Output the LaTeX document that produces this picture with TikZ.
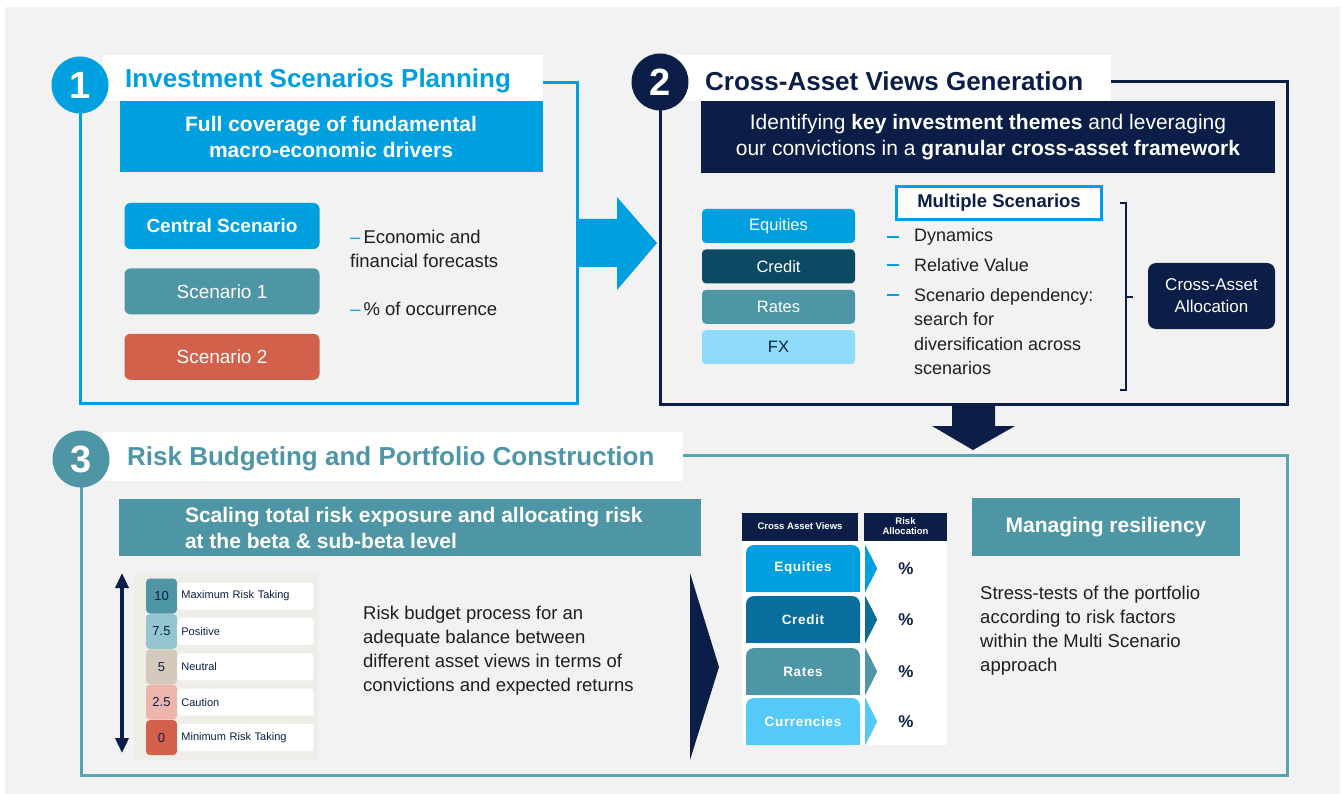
\documentclass[tikz,border=0pt]{standalone}
\usepackage{fontspec}
\setmainfont{Liberation Sans}
\usetikzlibrary{positioning,arrows.meta}

\definecolor{capblue}{HTML}{009FE0}
\definecolor{capnavy}{HTML}{0B1E47}
\definecolor{capteal}{HTML}{4E96A5}
\definecolor{capline}{HTML}{5AA3B3}
\definecolor{capred}{HTML}{D2604A}
\definecolor{capdeep}{HTML}{0C4A64}
\definecolor{capfx}{HTML}{8EDCFA}
\definecolor{capmid}{HTML}{0A6E9C}
\definecolor{capsky}{HTML}{55CAF8}
\definecolor{pagebg}{HTML}{F2F2F2}
\definecolor{panelbg}{HTML}{EFEDE8}
\definecolor{lvlpos}{HTML}{93C6D0}
\definecolor{lvlneu}{HTML}{D5C9BB}
\definecolor{lvlcau}{HTML}{EDB5AB}
\definecolor{bodytext}{HTML}{1E1E1E}

\tikzset{
  >=Latex,
  secframe/.style={line width=3pt},
  disc/.style={circle, minimum size=57pt, inner sep=0pt, text=white,
    font={\fontsize{38}{38}\selectfont\bfseries}},
  headbar/.style={fill=white, minimum height=46pt, inner sep=0pt, anchor=west},
  heading/.style={anchor=west, inner sep=0pt,
    font={\fontsize{26}{30}\selectfont\bfseries}},
  banner/.style={text=white, align=center, inner sep=0pt,
    font={\fontsize{21}{26}\selectfont\bfseries}},
  scenbox/.style={rounded corners=6pt, minimum width=195pt, minimum height=46pt,
    inner sep=0pt, text=white, font={\fontsize{19}{19}\selectfont}},
  note/.style={anchor=west, align=left, inner sep=0pt, text=bodytext,
    font={\fontsize{18.5}{24}\selectfont}},
  asset/.style={rounded corners=4pt, minimum width=153pt, minimum height=34pt,
    inner sep=0pt, text=white, font={\fontsize{16.5}{16.5}\selectfont}},
  msbox/.style={draw=capblue, line width=3.5pt, fill=white, minimum width=205pt,
    minimum height=33pt, inner sep=0pt, text=capnavy,
    font={\fontsize{18.5}{18.5}\selectfont\bfseries}},
  item/.style={anchor=west, align=left, inner sep=0pt, text=bodytext,
    font={\fontsize{18}{24.5}\selectfont}},
  itemdash/.style={capblue, line width=2.2pt},
  alloc/.style={fill=capnavy, rounded corners=8pt, minimum width=127pt,
    minimum height=66pt, inner sep=0pt, align=center, text=white,
    font={\fontsize{17}{22}\selectfont}},
  lvl/.style={rounded corners=4pt, minimum width=31pt, minimum height=35pt,
    inner sep=0pt, text=capnavy, font={\fontsize{13}{13}\selectfont}},
  lvltag/.style={fill=white, rounded corners=3pt, text width=128pt, inner xsep=4pt,
    inner ysep=0pt, minimum height=27pt, align=left, text=capnavy,
    font={\fontsize{11}{11}\selectfont}},
  scalearrow/.style={<->, >={Triangle[width=13pt,length=15pt]}, line width=3.5pt,
    capnavy},
  thead/.style={fill=capnavy, minimum height=28pt, inner sep=0pt, align=center,
    text=white, font={\fontsize{9.5}{10}\selectfont\bfseries}},
  tabrow/.style={rounded corners=8pt, minimum width=114pt, minimum height=47pt,
    inner sep=0pt, text=white,
    font={\fontsize{13.5}{13.5}\selectfont\bfseries\addfontfeature{LetterSpace=5}}},
  pct/.style={text=capnavy, inner sep=0pt, font={\fontsize{17}{17}\selectfont\bfseries}},
}

\begin{document}
\begin{tikzpicture}[x=1pt, y=-1pt]
  \useasboundingbox (0,0) rectangle (1343,794);
  \fill[white] (0,0) rectangle (1343,794);
  \fill[pagebg] (5,7) rectangle (1340,794);

  % --- 1: scenarios planning
  \draw[capblue, secframe] (80,83) rectangle (577,403);
  \node[headbar, minimum width=440pt] (h1bar) at (103,78) {};
  \node[disc, fill=capblue] (d1) at (80,85) {1};
  \node[heading, text=capblue] (t1) at (125,81) {Investment Scenarios Planning};
  \node[banner, fill=capblue, minimum width=423pt, minimum height=71pt] (b1) at (331,137)
    {Full coverage of fundamental\\macro-economic drivers};

  \node[scenbox, fill=capblue, font={\fontsize{19}{19}\selectfont\bfseries}] (cen) at (222,226) {Central Scenario};
  \node[scenbox, fill=capteal, below=19pt of cen] (sc1) {Scenario 1};
  \node[scenbox, fill=capred, below=19pt of sc1] (sc2) {Scenario 2};

  \node[note, anchor=north west] (fcst) at (350,230)
    {\textcolor{capblue}{--}\,Economic and\\financial forecasts};
  \node[note] (occ) at (350,309) {\textcolor{capblue}{--}\,\% of occurrence};

  % block arrow into 2
  \fill[capblue] (577,219) -- (617,219) -- (617,197) -- (657,243) -- (617,290)
    -- (617,267) -- (577,267) -- cycle;

  % --- 2: cross-asset views
  \draw[capnavy, secframe] (660,82) rectangle (1287,404);
  \node[headbar, minimum width=435pt] (h2bar) at (676,78) {};
  \node[disc, fill=capnavy] (d2) at (660,82) {2};
  \node[heading, text=capnavy] (t2) at (705,81) {Cross-Asset Views Generation};
  \node[banner, fill=capnavy, minimum width=574pt, minimum height=72pt,
    font={\fontsize{21}{26}\selectfont}] (b2) at (988,137)
    {Identifying \textbf{key investment themes} and leveraging\\
     our convictions in a \textbf{granular cross-asset framework}};

  \node[asset, fill=capblue] (eq) at (778.5,226) {Equities};
  \node[asset, fill=capdeep, below=6pt of eq] (cr) {Credit};
  \node[asset, fill=capteal, below=6pt of cr] (rt) {Rates};
  \node[asset, fill=capfx, text=capnavy, below=6pt of rt] (fx) {FX};

  \node[msbox] (ms) at (999,203) {Multiple Scenarios};
  \node[item] (dyn) at (914,237) {Dynamics};
  \node[item] (rv) at (914,265) {Relative Value};
  \node[item, anchor=north west] (sdep) at (914,288)
    {Scenario dependency:\\search for\\diversification across\\scenarios};
  \draw[itemdash] ([xshift=-27pt]dyn.west) -- ++(12pt,0);
  \draw[itemdash] ([xshift=-27pt]rv.west) -- ++(12pt,0);
  \draw[itemdash] ([xshift=-27pt,yshift=-7pt]sdep.north west) -- ++(12pt,0);

  % bracket towards the allocation box
  \draw[capnavy, line width=1.2pt] (1120,203) -- (1126,203) -- (1126,390) -- (1120,390);
  \draw[capnavy, line width=1.2pt] (1126,297) -- (1133,297);
  \node[alloc] (caa) at (1211.5,296) {Cross-Asset\\Allocation};

  % block arrow into 3
  \fill[capnavy] (952,404) -- (995,404) -- (995,426) -- (1015,426) -- (973,450)
    -- (932,426) -- (952,426) -- cycle;

  % --- 3: risk budgeting
  \draw[capline, secframe] (81,455) rectangle (1287,775);
  \node[headbar, minimum width=580pt, minimum height=49pt] (h3bar) at (103,456.5) {};
  \node[disc, fill=capteal] (d3) at (81,459) {3};
  \node[heading, text=capteal] (t3) at (127,459) {Risk Budgeting and Portfolio Construction};
  \node[fill=capteal, minimum width=582pt, minimum height=57pt, inner sep=0pt] (b3) at (410,527.5) {};
  \node[banner, align=left, anchor=west] (b3txt) at ([xshift=66pt]b3.west)
    {Scaling total risk exposure and allocating risk\\at the beta \& sub-beta level};

  % risk scale
  \fill[panelbg] (135,573) rectangle (318,760);
  \node[lvl, fill=capteal] (l10) at (161.5,596) {10};
  \node[lvl, fill=lvlpos, below=0pt of l10] (l75) {7.5};
  \node[lvl, fill=lvlneu, below=0pt of l75] (l5) {5};
  \node[lvl, fill=lvlcau, below=0pt of l5] (l25) {2.5};
  \node[lvl, fill=capred, below=0pt of l25] (l0) {0};
  \node[lvltag, right=0pt of l10] (g10) {Maximum Risk Taking};
  \node[lvltag, right=0pt of l75] (g75) {Positive};
  \node[lvltag, right=0pt of l5] (g5) {Neutral};
  \node[lvltag, right=0pt of l25] (g25) {Caution};
  \node[lvltag, right=0pt of l0] (g0) {Minimum Risk Taking};
  \coordinate (sctop) at (122,573);
  \coordinate (scbot) at (122,753);
  \draw[scalearrow] (sctop) -- (scbot);

  \node[note, anchor=north west] (rbp) at (363,606)
    {Risk budget process for an\\adequate balance between\\different asset views in terms of\\convictions and expected returns};

  \fill[capnavy] (690,573) -- (719,667) -- (690,760) -- cycle;

  % allocation table
  \fill[white] (742,541) rectangle (947,745);
  \node[thead, minimum width=116pt] (hv) at (800,526.5) {Cross Asset Views};
  \node[thead, minimum width=83pt] (hr) at (905.5,526.5) {Risk\\Allocation};

  \fill[capblue] (746,570) rectangle (860,592);
  \node[tabrow, fill=capblue] (teq) at (803,568.5) {Equities};
  \fill[capmid] (746,621) rectangle (860,643);
  \node[tabrow, fill=capmid] (tcr) at (803,619.5) {Credit};
  \fill[capteal] (746,673) rectangle (860,695);
  \node[tabrow, fill=capteal] (trt) at (803,671.5) {Rates};
  \fill[capsky] (746,723) rectangle (860,745);
  \node[tabrow, fill=capsky] (tcu) at (803,721.5) {Currencies};

  \fill[capblue] ([xshift=5pt]teq.north east) -- ([xshift=17pt]teq.east) -- ([xshift=5pt]teq.south east) -- cycle;
  \fill[capmid] ([xshift=5pt]tcr.north east) -- ([xshift=17pt]tcr.east) -- ([xshift=5pt]tcr.south east) -- cycle;
  \fill[capteal] ([xshift=5pt]trt.north east) -- ([xshift=17pt]trt.east) -- ([xshift=5pt]trt.south east) -- cycle;
  \fill[capsky] ([xshift=5pt]tcu.north east) -- ([xshift=17pt]tcu.east) -- ([xshift=5pt]tcu.south east) -- cycle;

  \node[pct] (peq) at (906,568.5) {\%};
  \node[pct] (pcr) at (906,619.5) {\%};
  \node[pct] (prt) at (906,671.5) {\%};
  \node[pct] (pcu) at (906,721.5) {\%};

  % resiliency
  \node[banner, fill=capteal, minimum width=268pt, minimum height=58pt] (mr) at (1106,527) {Managing resiliency};
  \node[note, anchor=north west] (stress) at (980,586)
    {Stress-tests of the portfolio\\according to risk factors\\within the Multi Scenario\\approach};
\end{tikzpicture}
\end{document}
